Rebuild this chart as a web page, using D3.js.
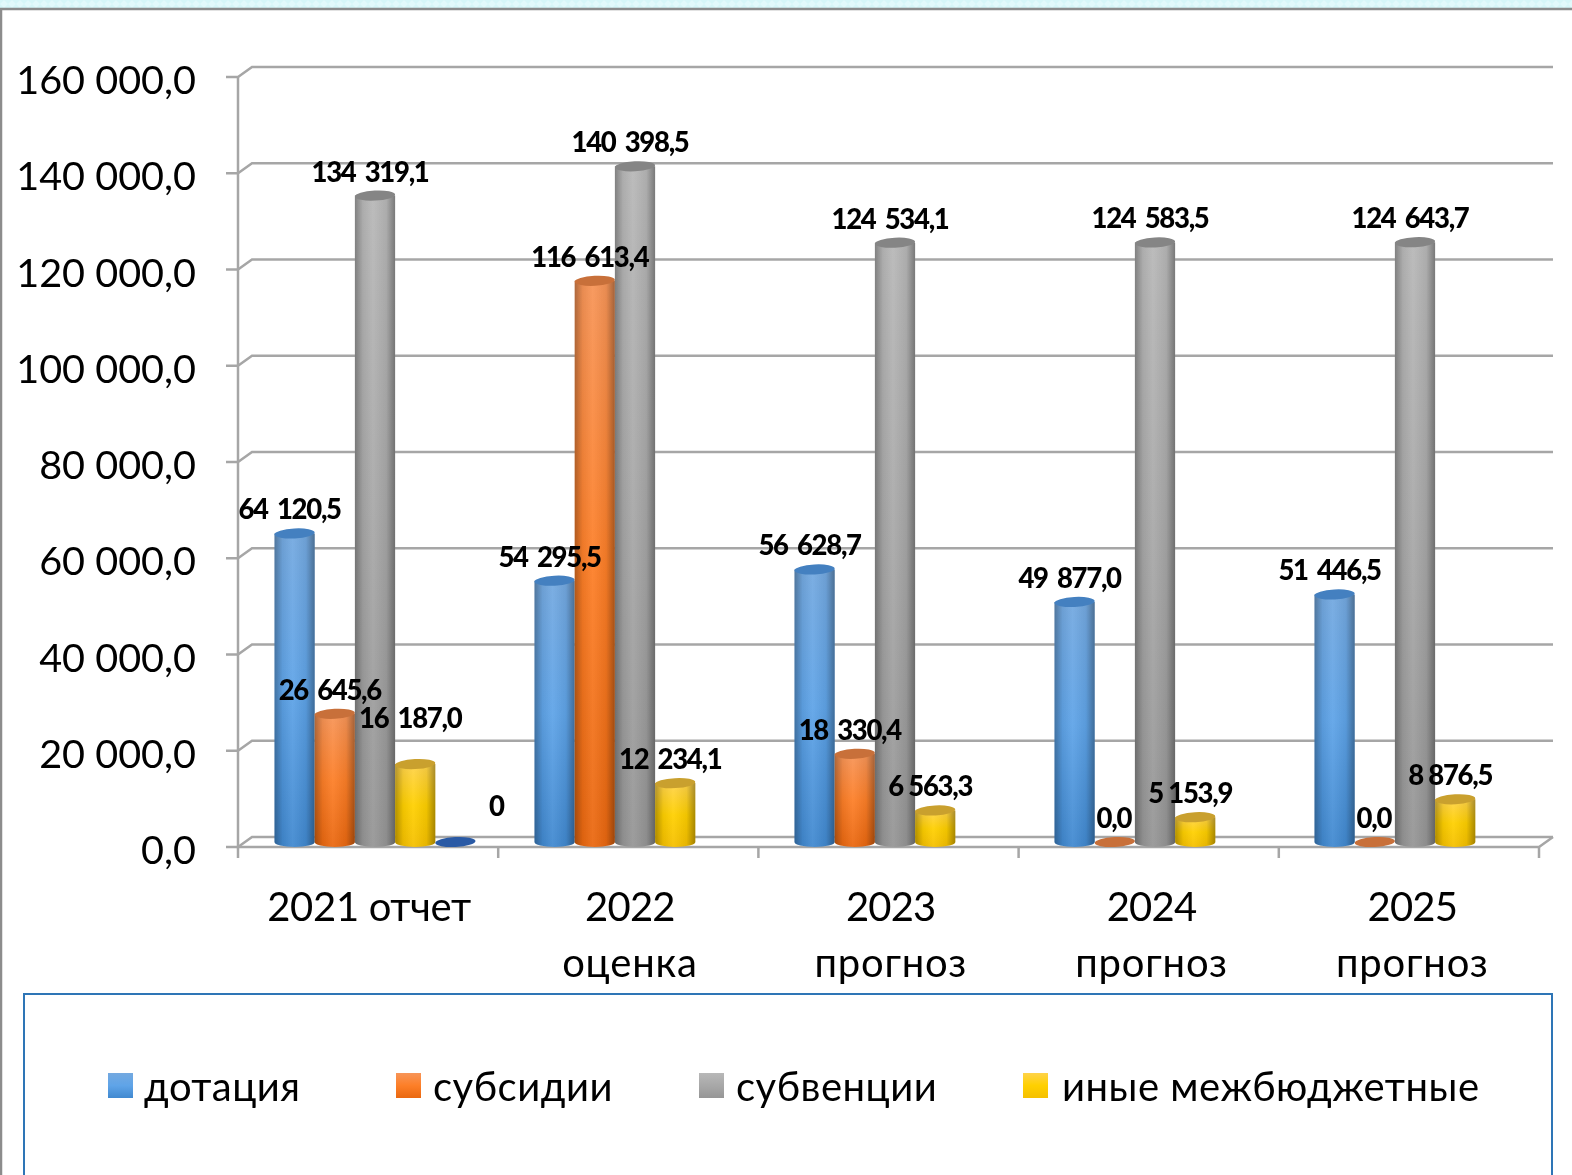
<!DOCTYPE html>
<html><head><meta charset="utf-8"><script src="https://d3js.org/d3.v7.min.js"></script>
<style>html,body{margin:0;background:#fff}svg{display:block;filter:blur(0.45px)}text{font-family:Lato,"Open Sans",sans-serif}</style></head>
<body><svg id="c" width="1572" height="1175"></svg>
<script>
const categories=[["2021 отчет"],["2022","оценка"],["2023","прогноз"],["2024","прогноз"],["2025","прогноз"]];
const seriesNames=["дотация","субсидии","субвенции","иные межбюджетные"];
const dotation=[64120.5,54295.5,56628.7,49877.0,51446.5];
const subsidies=[26645.6,116613.4,18330.4,0,0];
const subventions=[134319.1,140398.5,124534.1,124583.5,124643.7];
const other=[16187.0,12234.1,6563.3,5153.9,8876.5];
const extra=[0,null,null,null,null];
const yTicks=[0,20000,40000,60000,80000,100000,120000,140000,160000];
const palette=[
 {top:"#74a9e0",mid:"#5fa4e8",bot:"#4189d0",cap:"#4480c0"},
 {top:"#f79558",mid:"#fd7f28",bot:"#ea6810",cap:"#c8703a"},
 {top:"#b8b8b8",mid:"#a8a8a8",bot:"#969696",cap:"#858585"},
 {top:"#ffd34a",mid:"#ffd000",bot:"#f5c000",cap:"#c9a02e"},
 {top:"#2f5fa8",mid:"#2f5fa8",bot:"#2f5fa8",cap:"#2a5aa5"}];
const allSeries=[dotation,subsidies,subventions,other,extra];
const svg=d3.select("#c");
const defs=svg.append("defs");
palette.forEach((p,i)=>{
 const g=defs.append("linearGradient").attr("id","v"+i).attr("x1",0).attr("x2",0).attr("y1",0).attr("y2",1);
 g.append("stop").attr("offset",0).attr("stop-color",p.top);
 g.append("stop").attr("offset",.5).attr("stop-color",p.mid);
 g.append("stop").attr("offset",1).attr("stop-color",p.bot);
});
const sh=defs.append("linearGradient").attr("id","shade");
[[0,"#000",.3],[.2,"#000",.06],[.45,"#fff",.06],[.78,"#000",.06],[1,"#000",.34]].forEach(s=>sh.append("stop").attr("offset",s[0]).attr("stop-color",s[1]).attr("stop-opacity",s[2]));
const pat=defs.append("pattern").attr("id","strip").attr("width",8).attr("height",8).attr("patternUnits","userSpaceOnUse");
pat.append("rect").attr("width",8).attr("height",8).attr("fill","#d6f6f8");
pat.append("path").attr("d","M0,4L4,0L8,4L4,8Z").attr("fill","#e2f9fb");

svg.append("rect").attr("width",1572).attr("height",8).attr("fill","url(#strip)");
svg.append("path").attr("d","M1,1175V9H1572").attr("fill","none").attr("stroke","#8c8c8c").attr("stroke-width",2.5);

const xTick=d3.scaleBand().domain(d3.range(5)).range([238,1539]);
const x=d3.scaleBand().domain(d3.range(5)).range([238.5,1538.5]);
const sub=d3.scaleBand().domain(d3.range(5)).range([36,237]);
const y=d3.scaleLinear().domain([0,160000]).range([847,77]);
const dx=14,dy=-10,grid="#a6a6a6";
const fmtAxis=d3.formatLocale({decimal:",",thousands:"\u00a0",grouping:[3]}).format(",.1f");

const gridG=svg.append("g").attr("fill","none").attr("stroke",grid).attr("stroke-width",2.5);
yTicks.forEach(t=>{gridG.append("path").attr("d",`M${226},${y(t)}H238L${238+dx},${y(t)+dy}H${1539+dx}`);});
gridG.append("path").attr("d",`M238,${y(160000)}V847H1539L${1539+dx},${847+dy}`);
d3.range(5).forEach(i=>gridG.append("path").attr("d",`M${xTick(i)},847V858`));
gridG.append("path").attr("d",`M1539,847V858`);

svg.append("g").selectAll("text").data(yTicks).join("text").attr("x",196).attr("y",d=>y(d)+17).attr("text-anchor","end").attr("font-size",39.6).attr("fill","#000").text(d=>fmtAxis(d));

const bw=sub.bandwidth();
const rx=bw/2,ry=5;
allSeries.forEach((vals,si)=>{
 vals.forEach((v,ci)=>{
  if(v===null)return;
  const cx=x(ci)+sub(si)+rx, yt=y(v)-5, yb=y(0)-5;
  const g=svg.append("g");
  if(v>0){
   const d=`M${cx-rx},${yt}V${yb}A${rx},${ry} 0 0 0 ${cx+rx},${yb}V${yt}Z`;
   g.append("path").attr("d",d).attr("fill",`url(#v${si})`);
   g.append("path").attr("d",d).attr("fill","url(#shade)");
  }
  g.append("ellipse").attr("cx",cx).attr("cy",yt).attr("rx",rx).attr("ry",ry).attr("fill",palette[si].cap).attr("transform",`rotate(-3 ${cx} ${yt})`);
 });
});
const fmt=v=>{ if(v===0)return "0,0"; const [a,b]=d3.format(".1f")(v).split("."); return `${a.slice(0,-3)} ${a.slice(-3)},${b}`;};
const lab=svg.append("g").attr("font-size",27.5).attr("font-weight",900).attr("text-anchor","middle").attr("letter-spacing",-1.3);
allSeries.forEach((vals,si)=>vals.forEach((v,ci)=>{
 if(v===null)return;
 const isExtra=si===4, moved=si===3&&ci===0;
 const cx=x(ci)+sub(si)+rx;
 lab.append("text").attr("x",cx+(isExtra?41:v===0?-1:-5)).attr("y",y(v)-5-(isExtra?26:moved?36:14))
  .attr("word-spacing",v>=10000?4:0).text(isExtra?"0":fmt(v));
}));
const catG=svg.append("g").attr("font-size",40).attr("text-anchor","middle");
categories.forEach((c,i)=>c.forEach((t,j)=>{
 const spacing=c.length===1?-0.3:(j===0?-0.8:0.8);
 catG.append("text").attr("x",xTick(i)+xTick.bandwidth()/2+1+i*0.6).attr("y",921+j*56).attr("letter-spacing",spacing).text(t);
}));

svg.append("path").attr("d","M24,1175V994H1552V1175").attr("fill","none").attr("stroke","#2e75b6").attr("stroke-width",2);
const legX=[108,396,699,1023],legT=[144,433,736,1062];
const lg=svg.append("g");
seriesNames.forEach((n,i)=>{
 lg.append("rect").attr("x",legX[i]).attr("y",1073).attr("width",25).attr("height",25).attr("fill",`url(#v${i})`);
 lg.append("text").attr("x",legT[i]).attr("y",1101).attr("font-size",40).attr("letter-spacing",0.5).text(n);
});
</script></body></html>
